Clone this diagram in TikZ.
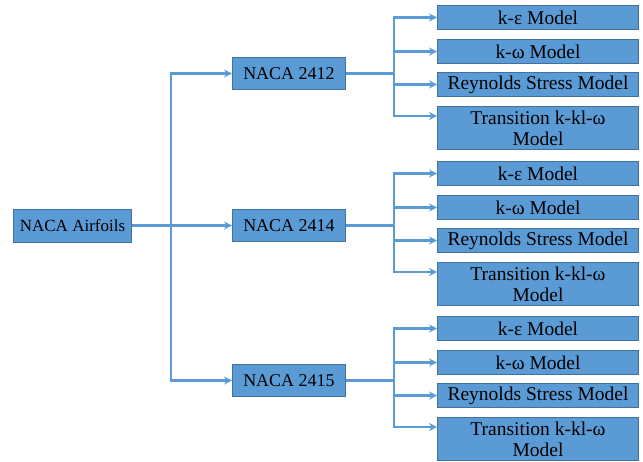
\documentclass[tikz,border=0pt]{standalone}
\usepackage{fontspec}
\setmainfont{Liberation Serif}
\usetikzlibrary{arrows.meta,calc}
\definecolor{boxfill}{HTML}{5B9BD5}
\definecolor{boxline}{HTML}{41719C}
\definecolor{conn}{HTML}{5B9BD5}
\tikzset{
  box/.style={draw=boxline, fill=boxfill, line width=1pt, inner sep=0pt, anchor=north west,
    font=\fontsize{19.5}{21}\selectfont, text=black, align=center},
  mbox/.style={box, minimum width=201pt, minimum height=24pt},
  tbox/.style={box, minimum width=201pt, minimum height=43pt},
  nbox/.style={box, minimum width=113pt, minimum height=32pt, font=\fontsize{18}{20}\selectfont},
  arr/.style={draw=conn, line width=2.2pt, -{Stealth[length=8pt,width=8pt]}},
  ln/.style={draw=conn, line width=2.2pt},
}
\begin{document}
\begin{tikzpicture}[x=1pt,y=-1pt]
\useasboundingbox (0,0) rectangle (643,461);
\node[box, minimum width=118pt, minimum height=33pt, font=\fontsize{17}{19}\selectfont] (air) at (13,208.5) {NACA Airfoils};
\node[nbox] (n1) at (232,57) {NACA 2412};
\node[nbox] (n2) at (232,209) {NACA 2414};
\node[nbox] (n3) at (232,364) {NACA 2415};
\coordinate (tx) at (171,225);
\draw[arr] (air.east) -- (n2.west);
\draw[arr] (air.east -| tx) |- (n1.west);
\draw[arr] (air.east -| tx) |- (n3.west);
\foreach \g/\top in {1/5, 2/161, 3/316} {
  \node[mbox] (e\g) at (437,\top) {k-ε Model};
  \node[mbox] (w\g) at (437,\top+34) {k-ω Model};
  \node[mbox] (r\g) at (437,\top+67) {Reynolds Stress Model};
  \node[tbox] (t\g) at (437,\top+101) {Transition k-kl-ω\\Model};
  \coordinate (b\g) at ($(n\g.east)+(48,0)$);
  \coordinate (ta\g) at ($(t\g.north west)+(0,10)$);
  \draw[ln] (n\g.east) -- (b\g);
  \draw[arr] (b\g) |- (e\g.west);
  \draw[arr] (b\g) |- (w\g.west);
  \draw[arr] (b\g) |- (r\g.west);
  \draw[arr] (b\g) |- (ta\g);
}
\end{tikzpicture}
\end{document}
